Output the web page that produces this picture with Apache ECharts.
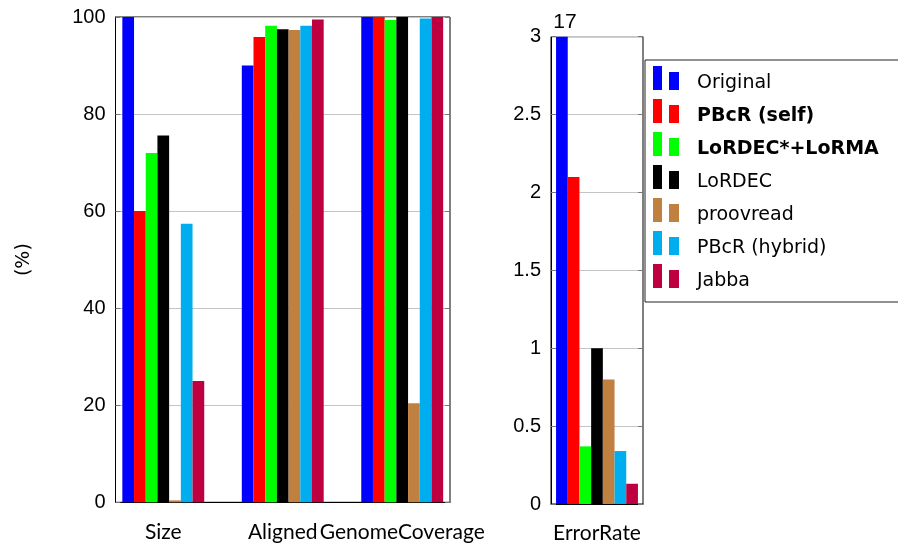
<!DOCTYPE html>
<html><head><meta charset="utf-8">
<script src="https://cdn.jsdelivr.net/npm/echarts@6/dist/echarts.min.js"></script>
<style>html,body{margin:0;padding:0;background:#fff}#c{width:898px;height:544px}</style>
</head><body><div id="c"></div>
<script>
const categories = ['Size', 'Aligned', 'GenomeCoverage'];
const errorCategory = ['ErrorRate'];
const seriesNames = ['Original', 'PBcR (self)', 'LoRDEC*+LoRMA', 'LoRDEC', 'proovread', 'PBcR (hybrid)', 'Jabba'];
const boldNames = ['PBcR (self)', 'LoRDEC*+LoRMA'];
const colors = ['#0000ff', '#ff0000', '#00ff00', '#000000', '#bf8040', '#00aeef', '#bf0040'];
const original = [100, 90, 100];
const pbcrSelf = [60, 95.9, 100];
const lordecLorma = [72, 98.2, 99.4];
const lordec = [75.6, 97.5, 100];
const proovread = [0.4, 97.3, 20.4];
const pbcrHybrid = [57.4, 98.2, 99.7];
const jabba = [25, 99.5, 100];
const errorRate = [17, 2.1, 0.37, 1.0, 0.8, 0.34, 0.13];
const leftTicks = {min: 0, max: 100, interval: 20};
const rightTicks = {min: 0, max: 3, interval: 0.5};

const leftValues = [original, pbcrSelf, lordecLorma, lordec, proovread, pbcrHybrid, jabba];
const chart = echarts.init(document.getElementById('c'));
const tickFont = {fontFamily: 'Liberation Sans', fontSize: 20, color: '#000'};
const catFont = {fontFamily: 'Lato', fontSize: 21, color: '#000'};
const series = [];
seriesNames.forEach((name, i) => {
  series.push({
    name, type: 'bar', xAxisIndex: 0, yAxisIndex: 0,
    data: categories.map((c, j) => [j + 1, leftValues[i][j]]),
    barWidth: 11.7, barGap: '0%', itemStyle: {color: colors[i]}
  });
  const v = errorRate[i];
  series.push({
    name, type: 'bar', xAxisIndex: 1, yAxisIndex: 2,
    data: [v > rightTicks.max ? {value: v, label: {show: true, position: 'top', distance: 4, offset: [3, 0], formatter: String(v), fontFamily: 'Liberation Sans', fontSize: 21, color: '#000'}} : v],
    barWidth: 11.7, barGap: '0%', clip: true, itemStyle: {color: colors[i]}
  });
});
const legendIcon = 'path://M0,0 H9 V24 H0 Z M16,6 H26 V24 H16 Z';
chart.setOption({
  animation: false,
  backgroundColor: '#fff',
  grid: [
    {left: 115.5, right: 448, top: 17, bottom: 41.7, show: true, borderColor: '#000', borderWidth: 1},
    {left: 551, right: 255, top: 36.7, bottom: 37.3, show: true, borderColor: '#000', borderWidth: 1}
  ],
  xAxis: [
    {gridIndex: 0, type: 'value', min: 0.6, max: 3.4,
     axisLine: {show: true, lineStyle: {color: '#000'}}, axisTick: {show: false}, splitLine: {show: false},
     axisLabel: Object.assign({customValues: [1, 2, 3], margin: 19, formatter: v => categories[Math.round(v) - 1] || ''}, catFont)},
    {gridIndex: 1, type: 'category', data: errorCategory,
     axisLine: {show: true, lineStyle: {color: '#000'}}, axisTick: {show: false},
     axisLabel: Object.assign({margin: 19}, catFont)}
  ],
  yAxis: [
    {gridIndex: 0, type: 'value', min: leftTicks.min, max: leftTicks.max, interval: leftTicks.interval,
     name: '(%)', nameLocation: 'middle', nameRotate: 90, nameGap: 82,
     nameTextStyle: {fontFamily: 'DejaVu Sans', fontSize: 19, color: '#000'},
     axisLine: {show: true, lineStyle: {color: '#000'}},
     axisTick: {show: true, inside: true, length: 5, lineStyle: {color: '#777'}},
     splitLine: {show: true, lineStyle: {color: '#c4c4c4'}},
     axisLabel: Object.assign({margin: 10}, tickFont)},
    {gridIndex: 0, type: 'value', position: 'right', min: leftTicks.min, max: leftTicks.max, interval: leftTicks.interval,
     axisLine: {show: false}, axisTick: {show: true, inside: true, length: 5, lineStyle: {color: '#777'}},
     splitLine: {show: false}, axisLabel: {show: false}},
    {gridIndex: 1, type: 'value', min: rightTicks.min, max: rightTicks.max, interval: rightTicks.interval,
     axisLine: {show: true, lineStyle: {color: '#000'}},
     axisTick: {show: true, inside: true, length: 5, lineStyle: {color: '#777'}},
     splitLine: {show: true, lineStyle: {color: '#c4c4c4'}},
     axisLabel: Object.assign({margin: 10}, tickFont)},
    {gridIndex: 1, type: 'value', position: 'right', min: rightTicks.min, max: rightTicks.max, interval: rightTicks.interval,
     axisLine: {show: false}, axisTick: {show: true, inside: true, length: 5, lineStyle: {color: '#777'}},
     splitLine: {show: false}, axisLabel: {show: false}}
  ],
  legend: {
    orient: 'vertical', left: 645, top: 60,
    padding: [3, 40, 11, 8],
    borderColor: '#222', borderWidth: 1, backgroundColor: '#fff',
    itemWidth: 26, itemHeight: 24, itemGap: 3,
    icon: legendIcon,
    data: seriesNames,
    selectedMode: false,
    formatter: n => boldNames.includes(n) ? '{b|' + n + '}' : n,
    textStyle: {fontFamily: 'DejaVu Sans', fontSize: 19, lineHeight: 20, color: '#000', padding: [10, 0, 0, 13],
      rich: {b: {fontFamily: 'DejaVu Sans', fontSize: 19, lineHeight: 20, fontWeight: 'bold', color: '#000'}}}
  },
  series
});
</script></body></html>
